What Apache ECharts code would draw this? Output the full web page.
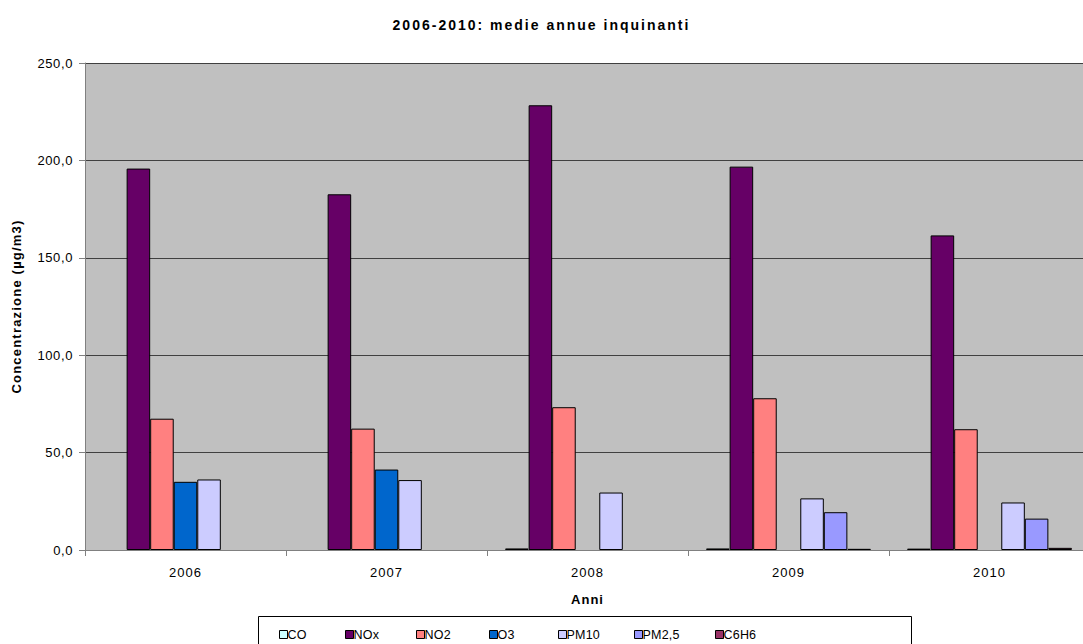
<!DOCTYPE html>
<html>
<head>
<meta charset="utf-8">
<script src="https://cdn.jsdelivr.net/npm/echarts@6/dist/echarts.min.js"></script>
<style>html,body{margin:0;padding:0;background:#fff}#c{width:1083px;height:644px;overflow:hidden}</style>
</head>
<body>
<div id="c"></div>
<script>
const years = ['2006', '2007', '2008', '2009', '2010'];
const CO    = [null, null, 0.8, 0.8, 0.7];
const NOx   = [195.8, 182.6, 228.3, 196.8, 161.5];
const NO2   = [67.4, 62.3, 73.3, 77.9, 62.0];
const O3    = [35.0, 41.3, null, null, null];
const PM10  = [36.2, 35.9, 29.5, 26.5, 24.4];
const PM25  = [null, null, null, 19.4, 16.1];
const C6H6  = [null, null, null, 0.6, 1.1];
const seriesNames = ['CO', 'NOx', 'NO2', 'O3', 'PM10', 'PM2,5', 'C6H6'];
const seriesData = [CO, NOx, NO2, O3, PM10, PM25, C6H6];
const colors = ['#CCFFFF', '#660066', '#FF8080', '#0066CC', '#CCCCFF', '#9999FF', '#993366'];
const legendX = [279, 345, 416, 489, 558, 634, 715];

const chart = echarts.init(document.getElementById('c'), null, {renderer: 'svg'});
const font = 'Liberation Sans, Arial, sans-serif';
chart.setOption({
  animation: false,
  backgroundColor: '#ffffff',
  title: {
    text: '2006-2010: medie annue inquinanti',
    left: 'center', top: 13,
    textStyle: {fontFamily: font, fontSize: 14, fontWeight: 'bold', color: '#000'}
  },
  graphic: [{
    type: 'rect', left: 258, top: 616,
    shape: {width: 653, height: 40},
    style: {fill: '#fff', stroke: '#000', lineWidth: 1}, z: 0
  }],
  legend: seriesNames.map((n, i) => ({
    data: [n], left: legendX[i], top: 628,
    itemWidth: 8, itemHeight: 8, itemGap: 0, icon: 'rect',
    padding: 0,
    textStyle: {fontFamily: font, fontSize: 12.5, color: '#000', padding: [0, 0, 0, -5]},
    itemStyle: {borderColor: '#000', borderWidth: 1}
  })),
  grid: {left: 85, width: 1005, top: 63, height: 487, outerBoundsMode: 'none', containLabel: false,
    show: true, backgroundColor: '#C0C0C0', borderWidth: 0},
  xAxis: {
    type: 'category', data: years,
    name: 'Anni', nameLocation: 'middle', nameGap: 43,
    nameTextStyle: {fontFamily: font, fontSize: 13, fontWeight: 'bold', color: '#000'},
    axisLine: {lineStyle: {color: '#808080', width: 1}},
    axisTick: {show: true, length: 6, alignWithLabel: false, lineStyle: {color: '#808080'}},
    axisLabel: {fontFamily: font, fontSize: 13, color: '#000', margin: 16},
    splitLine: {show: false}
  },
  yAxis: {
    type: 'value', min: 0, max: 250, interval: 50,
    name: 'Concentrazione (µg/m3)', nameLocation: 'middle', nameGap: 62, nameRotate: 90,
    nameTextStyle: {fontFamily: font, fontSize: 13, fontWeight: 'bold', color: '#000'},
    axisLine: {show: true, lineStyle: {color: '#808080', width: 1}},
    axisTick: {show: true, length: 6, lineStyle: {color: '#808080'}},
    axisLabel: {fontFamily: font, fontSize: 13, color: '#000', margin: 12,
      formatter: v => v.toFixed(1).replace('.', ',')},
    splitLine: {show: true, lineStyle: {color: '#404040', width: 1}}
  },
  series: seriesNames.map((n, i) => ({
    name: n, type: 'bar', data: seriesData[i],
    barGap: '0%', barCategoryGap: '18%',
    itemStyle: {color: colors[i], borderColor: '#000', borderWidth: 1}
  }))
});

// Widen glyph spacing to imitate the original's text rendering
document.querySelectorAll('#c text').forEach(t => {
  const s = t.textContent;
  let ls = '0.6px';
  if (s.indexOf('2006-2010') === 0) ls = '2px';
  else if (s.indexOf('Concentrazione') === 0) ls = '1.2px';
  else if (s === 'Anni') ls = '1px';
  else if (/^20\d\d$/.test(s)) ls = '1px';
  else if (seriesNames.indexOf(s) >= 0) ls = '0.2px';
  t.style.letterSpacing = ls;
});
</script>
</body>
</html>
